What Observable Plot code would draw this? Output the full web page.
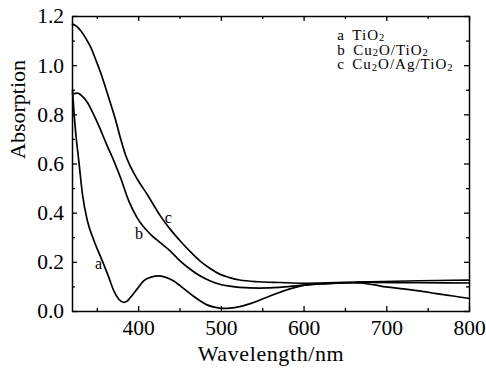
<!DOCTYPE html>
<html>
<head>
<meta charset="utf-8">
<script src="https://cdn.jsdelivr.net/npm/d3@7"></script>
<script src="https://cdn.jsdelivr.net/npm/@observablehq/plot@0.6"></script>
<style>
  html, body { margin: 0; padding: 0; background: #fff; }
  #chart svg { display: block; }
  #chart svg, #chart svg text, #chart svg tspan { font-family: 'Liberation Serif', 'DejaVu Serif', serif !important; }
</style>
</head>
<body>
<div id="chart"></div>
<script>
// ---- Data ----
const wlA  = [320, 322, 325, 327.6, 332, 338, 346, 356, 364, 370, 376, 382, 386, 390, 398, 406, 416, 424, 432, 442, 450, 458, 466, 474, 482, 490, 498, 506, 516, 526, 536, 546, 558, 570, 584, 598, 618, 638, 660, 671, 685, 699, 720, 739, 760, 780, 800];
const absA = [0.90, 0.80, 0.69, 0.613, 0.478, 0.369, 0.288, 0.206, 0.138, 0.084, 0.050, 0.037, 0.042, 0.057, 0.091, 0.125, 0.141, 0.145, 0.140, 0.125, 0.105, 0.084, 0.063, 0.044, 0.028, 0.019, 0.014, 0.013, 0.016, 0.023, 0.033, 0.046, 0.062, 0.077, 0.093, 0.105, 0.112, 0.115, 0.117, 0.115, 0.108, 0.100, 0.092, 0.084, 0.073, 0.063, 0.053];

const wlB  = [320, 326, 332, 338, 344, 350, 356, 362, 370, 378, 388, 398, 414, 426, 438, 450, 462, 474, 486, 498, 510, 522, 546, 570, 598, 638, 679, 740, 800];
const absB = [0.884, 0.888, 0.875, 0.850, 0.812, 0.769, 0.722, 0.674, 0.613, 0.545, 0.450, 0.382, 0.315, 0.280, 0.247, 0.206, 0.173, 0.145, 0.125, 0.111, 0.103, 0.098, 0.095, 0.098, 0.107, 0.115, 0.118, 0.117, 0.116];

const wlC  = [320, 325, 330, 336, 342, 348, 354, 360, 366, 372, 378, 384, 390, 398, 410, 426, 438, 450, 462, 474, 486, 498, 510, 522, 546, 570, 600, 640, 680, 740, 800];
const absC = [1.169, 1.160, 1.142, 1.112, 1.075, 1.025, 0.972, 0.910, 0.846, 0.780, 0.705, 0.638, 0.590, 0.540, 0.478, 0.390, 0.335, 0.288, 0.245, 0.206, 0.176, 0.152, 0.138, 0.128, 0.121, 0.118, 0.115, 0.118, 0.121, 0.125, 0.128];

const xMajorTicks = [400, 500, 600, 700, 800];
const xMinorTicks = [350, 450, 550, 650, 750];
const yMajorTicks = [0, 0.2, 0.4, 0.6, 0.8, 1.0, 1.2];
const yMinorTicks = [0.1, 0.3, 0.5, 0.7, 0.9, 1.1];

const curveLabels = ["a", "b", "c"];
const curveLabelX = [351.6, 400.3, 435.9];
const curveLabelY = [0.195, 0.317, 0.382];

const legendLetters  = ["a", "b", "c"];
const legendFormulas = ["TiO2", "Cu2O/TiO2", "Cu2O/Ag/TiO2"];
const legendX = 640;
const legendY = [1.124, 1.064, 1.004];

const xTitle = "Wavelength/nm";
const yTitle = "Absorption";

// ---- Build tables ----
const series = [
  ...wlA.map((w, i) => ({s: "a", wl: w, v: absA[i]})),
  ...wlB.map((w, i) => ({s: "b", wl: w, v: absB[i]})),
  ...wlC.map((w, i) => ({s: "c", wl: w, v: absC[i]}))
];
const labels = curveLabels.map((t, i) => ({t, x: curveLabelX[i], y: curveLabelY[i]}));
const legend = legendLetters.map((l, i) => ({t: l + "|" + legendFormulas[i], y: legendY[i]}));

const W = 486, H = 376;
const mL = 72, mR = 17, mT = 16, mB = 65;
const plotW = W - mL - mR, plotH = H - mT - mB;
const FONT = "'Liberation Serif', 'DejaVu Serif', serif";

const chart = Plot.plot({
  width: W, height: H,
  marginLeft: mL, marginRight: mR, marginTop: mT, marginBottom: mB,
  style: {color: "#000", background: "#fff"},
  x: {domain: [320, 800]},
  y: {domain: [0, 1.2]},
  marks: [
    Plot.axisX(xMajorTicks, {tickSize: 0, tickPadding: 8, fontSize: 21.5, label: null, fontFamily: FONT, tickFormat: d => String(d)}),
    Plot.axisY(yMajorTicks, {tickSize: 0, tickPadding: 8.5, fontSize: 21.5, label: null, fontFamily: FONT, tickFormat: d3.format(".1f")}),
    // inward ticks: bottom/top
    Plot.ruleX(xMajorTicks, {x: d => d, insetTop: plotH - 5, strokeWidth: 1.3}),
    Plot.ruleX(xMajorTicks, {x: d => d, insetBottom: plotH - 5, strokeWidth: 1.3}),
    Plot.ruleX(xMinorTicks, {x: d => d, insetTop: plotH - 3, strokeWidth: 1.3}),
    Plot.ruleX(xMinorTicks, {x: d => d, insetBottom: plotH - 3, strokeWidth: 1.3}),
    // inward ticks: left/right
    Plot.ruleY(yMajorTicks, {y: d => d, insetRight: plotW - 5, strokeWidth: 1.3}),
    Plot.ruleY(yMajorTicks, {y: d => d, insetLeft: plotW - 5, strokeWidth: 1.3}),
    Plot.ruleY(yMinorTicks, {y: d => d, insetRight: plotW - 3, strokeWidth: 1.3}),
    Plot.ruleY(yMinorTicks, {y: d => d, insetLeft: plotW - 3, strokeWidth: 1.3}),
    Plot.line(series, {x: "wl", y: "v", z: "s", stroke: "#000", strokeWidth: 1.7, curve: "monotone-x"}),
    Plot.text(labels, {x: "x", y: "y", text: "t", fontSize: 16, fill: "#000", fontFamily: FONT}),
    Plot.text(legend, {x: () => legendX, y: "y", text: "t", textAnchor: "start", fontSize: 15, fill: "#000", fontFamily: FONT}),
    Plot.text([xTitle], {text: d => d, frameAnchor: "bottom", dy: 49, fontSize: 22, fill: "#000", fontFamily: FONT}),
    Plot.text([yTitle], {text: d => d, frameAnchor: "left", dx: -55, dy: -5, rotate: -90, fontSize: 22, fill: "#000", fontFamily: FONT}),
    Plot.frame({stroke: "#000", strokeWidth: 1.5})
  ]
});

d3.select(chart).attr("font-family", FONT).style("font-family", FONT);

// subscripts in legend formulas
d3.select(chart).selectAll("text").filter(function () {
  return this.textContent.indexOf("|") >= 0;
}).each(function () {
  const el = d3.select(this);
  const raw = this.textContent;
  const [letter, formula] = raw.split("|");
  el.text(null).attr("letter-spacing", 1);
  el.append("tspan").text(letter);
  const parts = formula.split(/(\d)/).filter(p => p !== "");
  let first = true;
  let shifted = false;
  parts.forEach(p => {
    const t = el.append("tspan");
    if (first) { t.attr("dx", 7.5); first = false; }
    if (/^\d$/.test(p)) {
      t.attr("font-size", 10.5).attr("dy", 1.5).text(p);
      shifted = true;
    } else {
      if (shifted) { t.attr("dy", -1.5); shifted = false; }
      t.text(p);
    }
  });
});

// x-axis title is slightly wider in the reference
d3.select(chart).selectAll("text").filter(function () {
  return this.textContent === xTitle;
}).attr("letter-spacing", 0.6);

// make sure every text uses the serif face
d3.select(chart).selectAll("text").attr("font-family", FONT);

document.getElementById("chart").appendChild(chart);
</script>
</body>
</html>
